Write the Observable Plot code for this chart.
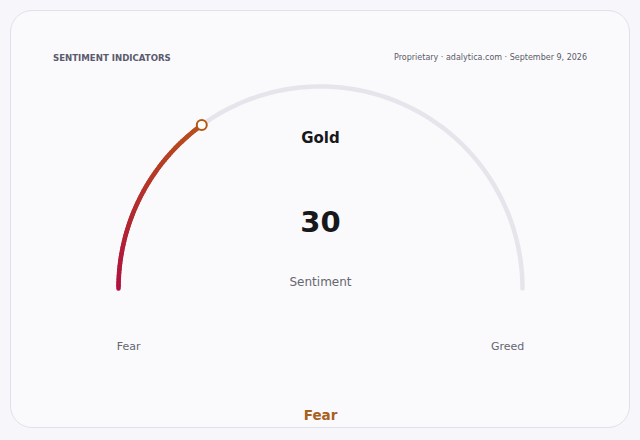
<!DOCTYPE html>
<html>
<head>
<meta charset="utf-8">
<script src="https://cdn.jsdelivr.net/npm/d3@7"></script>
<script src="https://cdn.jsdelivr.net/npm/@observablehq/plot@0.6"></script>
<style>
  html, body { margin: 0; padding: 0; background: #f7f7fb; font-family: "DejaVu Sans", sans-serif; }
  #wrap { position: relative; width: 640px; height: 440px; overflow: hidden; }
  #card { position: absolute; left: 10px; top: 10px; width: 618px; height: 416px;
          border: 1.5px solid #e1e1e9; border-radius: 22px; background: #fafafd; }
  #title { position: absolute; left: 53px; top: 53px; font-size: 8.6px; font-weight: bold;
           color: #5b5b6e; letter-spacing: 0; }
  #source { position: absolute; right: 53px; top: 53px; font-size: 8px; color: #5b5b66; }
  #chart { position: absolute; left: 0; top: 0; }
</style>
</head>
<body>
<div id="wrap">
  <div id="card"></div>
  <div id="title">SENTIMENT INDICATORS</div>
  <div id="source">Proprietary · adalytica.com · September 9, 2026</div>
  <div id="chart"></div>
</div>
<script>
// Data
const assetName = ["Gold"];
const sentimentValue = [30];
const scaleMin = [0];
const scaleMax = [100];
const metricLabel = ["Sentiment"];
const endLabels = ["Fear", "Greed"];
const zoneLabel = ["Fear"];

const value = sentimentValue[0];
const vmin = scaleMin[0], vmax = scaleMax[0];
const toAngle = v => Math.PI * (1 - (v - vmin) / (vmax - vmin));

// Arc sampling (track and value arc)
const N = 180;
const track = d3.range(N + 1).map(i => {
  const v = vmin + (vmax - vmin) * i / N;
  const a = toAngle(v);
  return {x: Math.cos(a), y: Math.sin(a)};
});
const M = 60;
const colorInterp = d3.interpolateRgb("#b0103f", "#b8501a");
const segs = d3.range(M).map(i => {
  const v1 = vmin + (value - vmin) * i / M;
  const v2 = vmin + (value - vmin) * (i + 1) / M;
  const a1 = toAngle(v1), a2 = toAngle(v2);
  return {x1: Math.cos(a1), y1: Math.sin(a1), x2: Math.cos(a2), y2: Math.sin(a2),
          c: colorInterp((i + 0.5) / M)};
});
const aV = toAngle(value);
const marker = [{x: Math.cos(aV), y: Math.sin(aV)}];

const chart = Plot.plot({
  width: 640,
  height: 440,
  margin: 0,
  style: {background: "transparent", fontFamily: "DejaVu Sans, sans-serif", overflow: "visible"},
  x: {domain: [-1, 1], range: [118, 522], axis: null},
  y: {domain: [0, 1], range: [288, 86], axis: null},
  marks: [
    Plot.line(track, {x: "x", y: "y", stroke: "#e5e5eb", strokeWidth: 4.5, strokeLinecap: "round", curve: "linear"}),
    Plot.link(segs, {x1: "x1", y1: "y1", x2: "x2", y2: "y2", stroke: d => d.c, strokeWidth: 4.5, strokeLinecap: "round"}),
    Plot.dot(marker, {x: "x", y: "y", r: 5, fill: "#ffffff", stroke: "#b3580f", strokeWidth: 2}),
    Plot.text(assetName, {x: () => 0, y: () => 0.7475, dy: 1, text: d => d, fontSize: 15, fontWeight: "bold", fill: "#18181b"}),
    Plot.text(sentimentValue, {x: () => 0, y: () => 0.332, dy: 1, text: d => String(d), fontSize: 29, fontWeight: "bold", fill: "#18181b"}),
    Plot.text(metricLabel, {x: () => 0, y: () => 0.035, dy: 1, text: d => d, fontSize: 12, fill: "#66666f"}),
    Plot.text(endLabels, {x: (d, i) => i === 0 ? -0.95 : 0.926, y: () => -0.282, dy: 1, text: d => d, fontSize: 11, fill: "#66666f"}),
    Plot.text(zoneLabel, {x: () => 0, y: () => -0.624, dy: 1, text: d => d, fontSize: 13.5, fontWeight: "bold", fill: "#a8601b"})
  ]
});
document.getElementById("chart").appendChild(chart);
</script>
</body>
</html>
